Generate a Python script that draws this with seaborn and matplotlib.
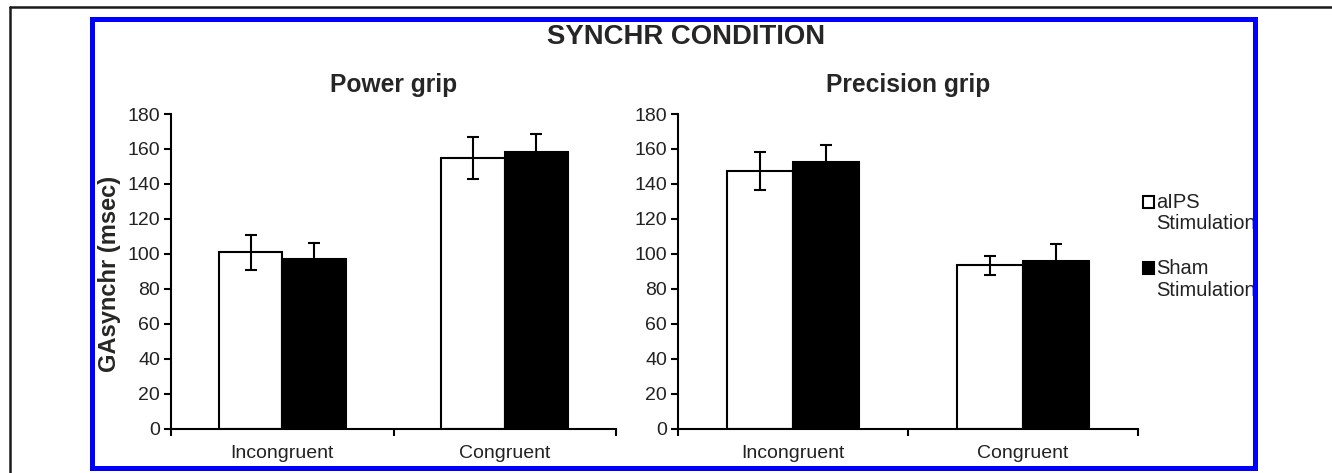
import numpy as np
import pandas as pd
import matplotlib
matplotlib.use("Agg")
import matplotlib.pyplot as plt
import seaborn as sns
from matplotlib.patches import Rectangle
from matplotlib.lines import Line2D
from matplotlib.legend_handler import HandlerPatch
from matplotlib.transforms import Bbox, TransformedBbox

##-------------------------------------------
## data (msec)
conditions = ['Incongruent', 'Congruent']
stimulations = ['aIPS\nStimulation', 'Sham\nStimulation']

power_aips = [101, 155]
power_sham = [97, 158.5]
power_aips_err = [10, 12]
power_sham_err = [9, 10]

prec_aips = [147.5, 93.5]
prec_sham = [152.5, 96]
prec_aips_err = [11, 5.5]
prec_sham_err = [10, 9.5]

yticks = list(range(0, 181, 20))


def make_df(aips, sham):
    return pd.DataFrame({'condition': conditions * 2,
                         'stim': [stimulations[0]] * 2 + [stimulations[1]] * 2,
                         'value': aips + sham})


##-------------------------------------------
sns.set_style('ticks')
plt.rcParams['font.family'] = ['Liberation Sans', 'DejaVu Sans']

W, H = 1332, 473
fig = plt.figure(figsize=(W / 100, H / 100), dpi=100)
ax1 = fig.add_axes([171 / W, 44.5 / H, 445 / W, 314.5 / H])
ax2 = fig.add_axes([678 / W, 44.5 / H, 460 / W, 314.5 / H])

panels = [
    (ax1, make_df(power_aips, power_sham), [power_aips_err, power_sham_err], 'Power grip'),
    (ax2, make_df(prec_aips, prec_sham), [prec_aips_err, prec_sham_err], 'Precision grip'),
]

for ax, df, errs, title in panels:
    sns.barplot(data=df, x='condition', y='value', hue='stim', order=conditions,
                hue_order=stimulations, palette=['white', 'black'], saturation=1,
                edgecolor='black', linewidth=1.5, width=0.57, gap=0,
                errorbar=None, legend=False, ax=ax)
    # error bars on top of each bar
    for cont, err in zip(ax.containers, errs):
        for bar, e in zip(cont, err):
            ax.errorbar(bar.get_x() + bar.get_width() / 2, bar.get_height(), yerr=e,
                        color='black', lw=1.5, capsize=4, capthick=1.5, zorder=5)

    ax.set_ylim(0, 180)
    ax.set_yticks(yticks)
    ax.set_xlim(-0.5, 1.5)
    ax.set_xticks([-0.5, 0.5, 1.5], minor=True)
    ax.tick_params(axis='x', which='major', length=0, pad=12, labelsize=14, colors='#222222')
    ax.tick_params(axis='x', which='minor', length=5, width=1.5, direction='out', color='black')
    ax.tick_params(axis='y', length=5, width=1.5, labelsize=14, pad=3, colors='#222222')
    ax.tick_params(axis='both', color='black')
    sns.despine(ax=ax)
    for s in ['left', 'bottom']:
        ax.spines[s].set_linewidth(1.5)
        ax.spines[s].set_color('black')
    ax.set_xlabel('')
    ax.set_ylabel('')
    ax.set_title(title, fontsize=17.7, fontweight='bold', pad=16)

ax1.set_ylabel('GAsynchr (msec)', fontsize=17, fontweight='bold')
ax1.yaxis.set_label_coords(-0.112, 0.49)

fig.text(686 / W, (H - 37) / H, 'SYNCHR CONDITION', ha='center', va='center',
         fontsize=19.8, fontweight='bold')


##legend with the square next to the first line
def top_square(legend, orig_handle, xdescent, ydescent, width, height, fontsize):
    return Rectangle((-xdescent, -ydescent + 0.58 * fontsize), width, height)


handles = [ax2.containers[0][0], ax2.containers[1][0]]
leg = ax2.legend(handles, stimulations, loc='upper left',
                 bbox_to_anchor=(1143 / W, (H - 193) / H), bbox_transform=fig.transFigure,
                 frameon=False, fontsize=14.5, borderpad=0, borderaxespad=0,
                 handlelength=0.55, handleheight=0.55, handletextpad=0.1, labelspacing=1.3,
                 handler_map={h: HandlerPatch(patch_func=top_square) for h in handles})
clip = TransformedBbox(Bbox([[0, 0], [1253 / W, 1]]), fig.transFigure)
for t in leg.get_texts():
    t.set_color('#222222')
    t.set_linespacing(1.15)
    t.set_clip_box(clip)
    t.set_clip_on(True)

## frames
fig.add_artist(Rectangle((91.5 / W, (H - 467.5) / H), (1254.5 - 91.5) / W, (467.5 - 19.5) / H,
                         transform=fig.transFigure, fill=False, edgecolor='#0000ff',
                         linewidth=3.6, zorder=10))
fig.add_artist(Line2D([10 / W, 1], [(H - 7) / H, (H - 7) / H], transform=fig.transFigure,
                      color='#1a1a1a', lw=1.8, zorder=10))
fig.add_artist(Line2D([10 / W, 10 / W], [0, (H - 7) / H], transform=fig.transFigure,
                      color='#1a1a1a', lw=1.8, zorder=10))

fig.savefig('out.png', dpi=100)
